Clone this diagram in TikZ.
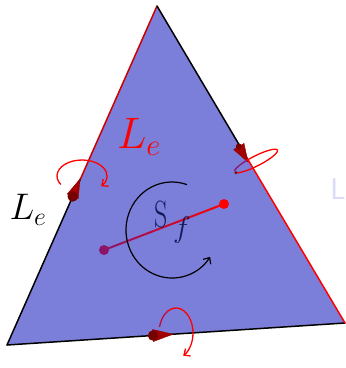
\RequirePackage{fix-cm}
\documentclass[tikz,border=0pt]{standalone}
\usetikzlibrary{arrows.meta,calc}
\definecolor{facefill}{RGB}{124,127,218}
\definecolor{conered}{RGB}{165,0,0}
\definecolor{dotpurple}{RGB}{140,20,105}
\definecolor{navy}{RGB}{20,25,90}
\definecolor{faint}{RGB}{218,218,250}
\begin{document}
\begin{tikzpicture}[x=1pt,y=-1pt,
  edge/.style={line width=1.5pt,line cap=round},
  loop/.style={red,line width=1.3pt},
  barb/.style={-{Straight Barb[length=5pt,width=9pt]}},
  dot/.style={circle,inner sep=0pt,minimum size=10pt},
  cone/.style={fill=conered,draw=conered!80!black,line width=0.4pt}]
\useasboundingbox (0,0) rectangle (346,368);
% face
\coordinate (T) at (157,6);
\coordinate (BL) at (7,345);
\coordinate (BR) at (345,323);
\fill[facefill] (T) -- (BL) -- (BR) -- cycle;
\coordinate (LC) at (80,180);
\coordinate (RC) at (247,158);
\draw[edge,red!80!black] (T) -- (LC);
\draw[edge,black] (LC) -- (BL);
\draw[edge,black] (BL) -- (BR);
\draw[edge,black] (T) -- (RC);
\draw[edge,red] (RC) -- (BR);
% cones
\fill[cone] (80,179) -- (78.2,198.9) -- (67.2,194.1) -- cycle;
\fill[conered!70!black] (72.7,196.5) circle[radius=5.2];
\fill[cone] (248,162) -- (244,143.4) -- (233.6,149.6) -- cycle;
\fill[conered!70!black] (238.8,146.5) circle[radius=3];
\fill[cone] (173,334.2) -- (153.4,341.5) -- (152.6,329.5) -- cycle;
\fill[conered!70!black] (153,335.5) circle[radius=5.2];
% rotation loops
\coordinate (cl) at (82,176);
\draw[loop,barb] (cl) ++(148:25 and 16) arc[start angle=148,end angle=400,x radius=25,y radius=16];
\coordinate (cb) at (176,333);
\draw[loop,red!45!dotpurple] (cb) ++(194:17 and 25) arc[start angle=194,end angle=240,x radius=17,y radius=25];
\draw[loop,barb] (cb) ++(240:17 and 25) arc[start angle=240,end angle=425,x radius=17,y radius=25];
\draw[line width=1.3pt,dotpurple] plot[domain=185:250,samples=20,smooth] ({256+24*cos(\x)*0.891+5*sin(\x)*0.454},{161-24*cos(\x)*0.454+5*sin(\x)*0.891});
\draw[loop] plot[domain=250:525,samples=60,smooth] ({256+24*cos(\x)*0.891+5*sin(\x)*0.454},{161-24*cos(\x)*0.454+5*sin(\x)*0.891}) coordinate (re);
\fill[conered!60!black] (re) circle[radius=1.6];
% dual edge
\node[dot,fill=dotpurple] (p) at (104,250) {};
\node[dot,fill=red] (r) at (224,204) {};
\foreach \i in {0,...,19}{
  \pgfmathsetmacro\pa{\i/20}
  \pgfmathsetmacro\pb{(\i+1)/20}
  \pgfmathtruncatemacro\pc{100*\i/19}
  \draw[line width=2pt,color=red!\pc!dotpurple] ($(p)!\pa!(r)$) -- ($(p)!\pb!(r)$);
}
% circulation arrow
\coordinate (cc) at (172,230);
\draw[black,line width=1.2pt,barb] (cc) ++(-71:46 and 48) arc[start angle=-71,end angle=-326,x radius=46,y radius=48];
% labels
\node[text=red,font=\fontsize{44}{44}\selectfont] (lr) at (139,137) {$L_e$};
\node[text=black,font=\fontsize{37}{37}\selectfont] (lb) at (28,210) {$L_e$};
\node[text=navy,font=\fontsize{38}{38}\selectfont,inner sep=0pt] (sfs) at (161,215) {\scalebox{0.68}[1]{S}};
\node[text=navy,font=\fontsize{30}{30}\selectfont,inner sep=0pt] (sff) at (182,230) {$f$};
\node[text=faint,font=\fontsize{30}{30}\selectfont\sffamily] (lf) at (338,189) {L};
\end{tikzpicture}
\end{document}
